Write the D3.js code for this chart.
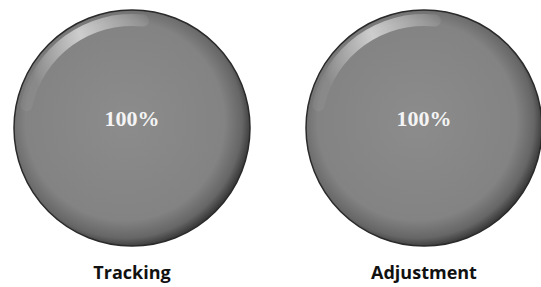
<!DOCTYPE html>
<html>
<head>
<meta charset="utf-8">
<script src="https://cdn.jsdelivr.net/npm/d3@7"></script>
<style>
  body { margin: 0; background: #fff; }
</style>
</head>
<body>
<div id="chart"></div>
<script>
// Data
const categories = ["Tracking", "Adjustment"];
const values = [100, 100];
const valueLabels = ["100%", "100%"];

const width = 541, height = 287;

const svg = d3.select("#chart")
    .append("svg")
    .attr("width", width)
    .attr("height", height);

// Shading for the pies
const defs = svg.append("defs");
const grad = defs.append("radialGradient")
    .attr("id", "pieShade")
    .attr("cx", "47%").attr("cy", "47%").attr("r", "54%");
grad.append("stop").attr("offset", "0%").attr("stop-color", "#8c8c8c");
grad.append("stop").attr("offset", "78%").attr("stop-color", "#838383");
grad.append("stop").attr("offset", "92%").attr("stop-color", "#666");
grad.append("stop").attr("offset", "100%").attr("stop-color", "#363636");

const shine = defs.append("linearGradient")
    .attr("id", "shine")
    .attr("x1", "0%").attr("y1", "30%").attr("x2", "100%").attr("y2", "0%");
shine.append("stop").attr("offset", "0%").attr("stop-color", "#fff").attr("stop-opacity", 0.05);
shine.append("stop").attr("offset", "45%").attr("stop-color", "#fff").attr("stop-opacity", 0.6);
shine.append("stop").attr("offset", "100%").attr("stop-color", "#fff").attr("stop-opacity", 0.05);

// Position scales
const xScale = d3.scalePoint()
    .domain(categories)
    .range([132, 424]);

const radius = 118;
const pieCy = 128;

const pie = d3.pie().sort(null).value(d => d);
const arc = d3.arc().innerRadius(0).outerRadius(radius);

categories.forEach((cat, i) => {
    const g = svg.append("g")
        .attr("transform", `translate(${xScale(cat)},${pieCy})`);

    g.selectAll("path.slice")
        .data(pie([values[i]]))
        .join("path")
        .attr("class", "slice")
        .attr("d", arc)
        .attr("fill", "url(#pieShade)")
        .attr("stroke", "#2a2a2a")
        .attr("stroke-width", 1.5);

    // top-left highlight rim
    g.append("path")
        .attr("d", d3.arc().innerRadius(radius - 16).outerRadius(radius - 4)
            .cornerRadius(6)
            .startAngle(-Math.PI * 0.45).endAngle(Math.PI * 0.05)())
        .attr("fill", "url(#shine)");

    g.append("text")
        .attr("x", 0)
        .attr("y", -7)
        .attr("text-anchor", "middle")
        .attr("dominant-baseline", "middle")
        .style("font-family", "'Liberation Serif', serif")
        .style("font-weight", "bold")
        .style("font-size", "22px")
        .attr("fill", "#f4f4f4")
        .text(valueLabels[i]);

    svg.append("text")
        .attr("x", xScale(cat))
        .attr("y", 279)
        .attr("text-anchor", "middle")
        .style("font-family", "'Open Sans', sans-serif")
        .style("font-weight", "bold")
        .style("font-size", "18px")
        .attr("fill", "#111")
        .text(cat);
});
</script>
</body>
</html>
